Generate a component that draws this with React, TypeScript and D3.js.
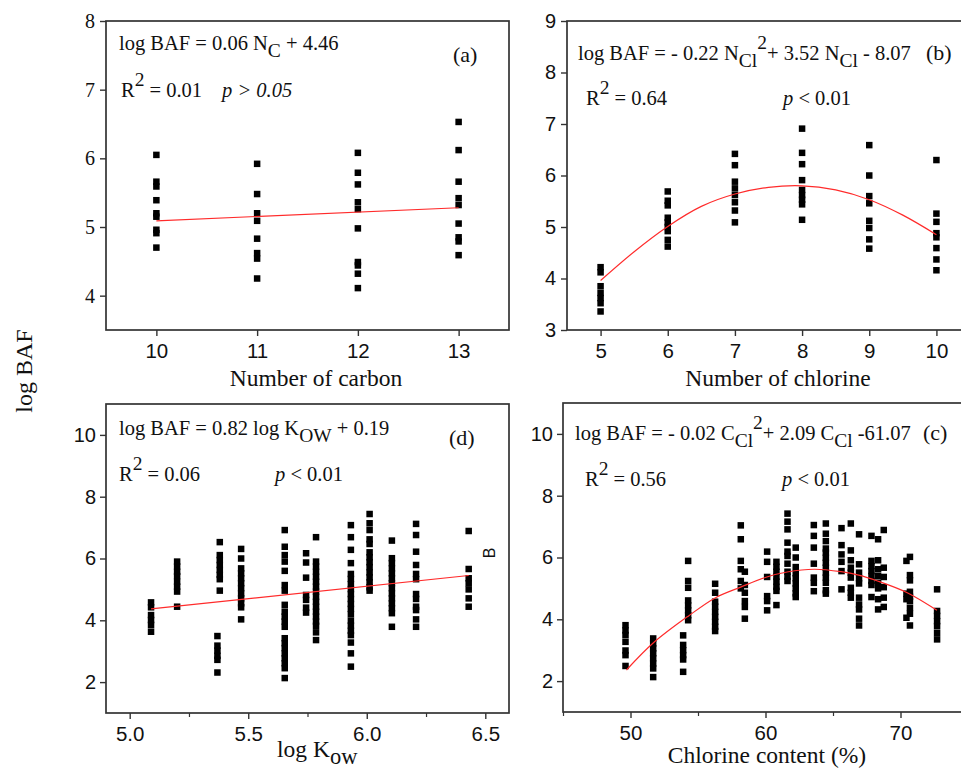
import { useRef, useEffect } from "react";
import * as d3 from "d3";

// (a) log BAF vs number of carbon
const carbon_x = [10, 11, 12, 13];
const carbon_baf = [
  [6.05, 5.66, 5.59, 5.39, 5.2, 5.15, 4.96, 4.91, 4.7],
  [5.92, 5.48, 5.2, 5.09, 4.83, 4.62, 4.54, 4.25],
  [6.08, 5.79, 5.62, 5.36, 5.26, 4.98, 4.49, 4.44, 4.32, 4.11],
  [6.53, 6.12, 5.66, 5.42, 5.32, 5.05, 4.85, 4.79, 4.59],
];
const carbon_fit_x = [10, 13];
const carbon_fit_y = [5.09, 5.28];

// (b) log BAF vs number of chlorine
const chlorine_x = [5, 6, 7, 8, 9, 10];
const chlorine_baf = [
  [4.22, 4.12, 3.85, 3.72, 3.62, 3.52, 3.36],
  [5.69, 5.51, 5.42, 5.18, 5.09, 5.0, 4.92, 4.75, 4.62],
  [6.42, 6.2, 5.88, 5.75, 5.62, 5.48, 5.32, 5.09],
  [6.91, 6.44, 6.22, 5.91, 5.72, 5.62, 5.53, 5.44, 5.14],
  [6.59, 6.0, 5.6, 5.46, 5.12, 4.98, 4.76, 4.58],
  [6.3, 5.26, 5.1, 4.88, 4.8, 4.59, 4.37, 4.16],
];
const chlorine_fit_x = [5, 5.5, 6, 6.5, 7, 7.5, 8, 8.5, 9, 9.5, 10];
const chlorine_fit_y = [3.96, 4.52, 5.01, 5.4, 5.64, 5.77, 5.8, 5.72, 5.53, 5.23, 4.85];

// (d) log BAF vs log Kow
const kow_x = [5.09, 5.2, 5.38, 5.37, 5.47, 5.654, 5.744, 5.786, 5.933, 6.012, 6.106, 6.208, 6.43];
const kow_baf = [
  [4.58, 4.42, 4.17, 4.01, 3.85, 3.63],
  [5.9, 5.74, 5.57, 5.43, 5.25, 5.09, 4.93, 4.44],
  [6.53, 6.11, 5.95, 5.79, 5.63, 5.47, 5.33, 4.96],
  [3.49, 3.18, 3.02, 2.85, 2.72, 2.31],
  [6.31, 6.0, 5.68, 5.52, 5.36, 5.2, 5.04, 4.87, 4.71, 4.55, 4.42, 4.03],
  [6.92, 6.38, 6.11, 5.9, 5.6, 5.14, 4.96, 4.5, 4.28, 4.12, 3.96, 3.79, 3.42, 3.26, 3.1, 2.93, 2.77, 2.61, 2.45, 2.13],
  [6.17, 5.87, 5.38, 4.82, 4.66, 4.41, 4.25],
  [6.69, 5.9, 5.74, 5.57, 5.41, 5.25, 5.09, 4.93, 4.76, 4.6, 4.44, 4.28, 4.12, 3.96, 3.82, 3.61, 3.36],
  [7.08, 6.69, 6.28, 5.85, 5.5, 5.34, 5.17, 5.01, 4.85, 4.69, 4.53, 4.37, 4.2, 3.99, 3.83, 3.66, 3.52, 3.28, 2.93, 2.5],
  [7.44, 7.14, 6.92, 6.62, 6.47, 6.2, 6.04, 5.88, 5.72, 5.55, 5.39, 5.23, 5.07, 4.96],
  [6.58, 6.01, 5.85, 5.68, 5.52, 5.36, 5.2, 5.04, 4.87, 4.71, 4.55, 4.39, 4.23, 3.79],
  [7.12, 6.76, 6.22, 5.79, 5.5, 5.33, 4.85, 4.69, 4.44, 4.33, 4.03, 3.79],
  [6.89, 5.66, 5.36, 5.2, 5.0, 4.71, 4.44],
];
const kow_fit_x = [5.09, 6.43];
const kow_fit_y = [4.37, 5.45];

// (c) log BAF vs chlorine content (%)
const content_x = [49.63, 51.68, 54.27, 53.9, 56.27, 58.17, 58.47, 60.12, 60.81, 61.63, 62.24, 63.58, 64.47, 65.63, 66.32, 66.93, 67.85, 68.34, 68.76, 70.7, 70.44, 72.71];
const content_baf = [
  [3.81, 3.64, 3.49, 3.27, 2.99, 2.84, 2.49],
  [3.38, 3.22, 3.06, 2.9, 2.74, 2.57, 2.41, 2.13],
  [5.89, 5.24, 5.02, 4.61, 4.45, 4.29, 4.13, 3.97],
  [3.48, 3.17, 3.0, 2.84, 2.7, 2.3],
  [5.15, 4.86, 4.57, 4.41, 4.24, 4.08, 3.92, 3.76, 3.62],
  [7.04, 6.59, 5.89, 5.62, 5.24, 5.0],
  [5.54, 5.11, 4.86, 4.59, 4.4, 4.02],
  [6.19, 5.86, 5.37, 4.75, 4.59, 4.29],
  [5.86, 5.7, 5.54, 5.38, 5.22, 5.05, 4.92, 4.46],
  [7.42, 7.16, 6.91, 6.48, 6.19, 6.05, 5.8, 5.54, 5.38, 5.24],
  [6.32, 6.0, 5.69, 5.49, 5.33, 5.16, 5.0, 4.84, 4.72],
  [7.05, 6.7, 6.32, 5.8, 5.35, 5.18, 4.91],
  [7.1, 6.77, 6.53, 6.29, 6.16, 5.99, 5.83, 5.67, 5.51, 5.35, 5.18, 4.94, 4.83],
  [6.95, 6.4, 6.1, 5.86, 5.56, 4.97],
  [7.1, 6.23, 5.91, 5.67, 5.51, 5.35, 5.02, 4.86, 4.7],
  [6.75, 5.78, 5.51, 5.33, 5.16, 4.7, 4.48, 4.32, 4.02, 3.8],
  [6.7, 5.89, 5.72, 5.56, 5.4, 5.24, 5.11, 4.72],
  [6.59, 5.91, 5.62, 5.4, 5.18, 5.0, 4.65, 4.32],
  [6.89, 5.67, 5.37, 5.04, 4.7, 4.4],
  [6.02, 5.43, 5.26, 4.89, 4.73, 4.59, 4.37, 4.18, 3.8],
  [5.89, 4.83, 4.65, 4.05],
  [4.97, 4.27, 4.11, 3.94, 3.78, 3.56, 3.35],
];
const content_fit_x = [49.7, 51.7, 54.3, 56.3, 58.2, 60.1, 61.6, 63.6, 65.6, 66.9, 68.3, 70.5, 72.7];
const content_fit_y = [2.36, 3.24, 4.11, 4.7, 5.05, 5.37, 5.53, 5.62, 5.54, 5.43, 5.24, 4.86, 4.29];

// tick values
const carbon_ticks = [10, 11, 12, 13];
const carbon_yticks = [4, 5, 6, 7, 8];
const chlorine_ticks = [5, 6, 7, 8, 9, 10];
const chlorine_yticks = [3, 4, 5, 6, 7, 8, 9];
const kow_ticks = [5.0, 5.5, 6.0, 6.5];
const kow_minor = [5.25, 5.75, 6.25];
const content_ticks = [50, 60, 70];
const content_minor = [45, 55, 65, 75];
const baf_yticks = [2, 4, 6, 8, 10];

const SERIF = "'Liberation Serif', 'Times New Roman', serif";
const SANS = "'Liberation Sans', Arial, sans-serif";

type Part = { t: string; s?: "sub" | "sup"; i?: boolean };

const App = () => {
  const container = useRef<SVGSVGElement>(null);

  useEffect(() => {
    createChart();
  });

  const rich = (g: any, x: number, y: number, parts: Part[], size: number, anchor = "start") => {
    const t = g
      .append("text")
      .attr("x", x)
      .attr("y", y)
      .attr("font-family", SERIF)
      .attr("font-size", size)
      .attr("fill", "#111")
      .attr("text-anchor", anchor)
      .style("white-space", "pre");
    let shift = 0;
    parts.forEach((p) => {
      const target = p.s === "sub" ? 7 : p.s === "sup" ? -11 : 0;
      t.append("tspan")
        .attr("dy", target - shift)
        .attr("font-size", p.s ? size - 1 : size)
        .attr("font-style", p.i ? "italic" : null)
        .text(p.t);
      shift = target;
    });
    return t;
  };

  const createChart = () => {
    const svg = d3.select(container.current);
    svg.selectAll("*").remove();

    const panels = [
      {
        left: 106, right: 509, top: 21, bottom: 330,
        xdom: [9.5, 13.5], ydom: [3.5, 8],
        xs: carbon_x, ys: carbon_baf, fx: carbon_fit_x, fy: carbon_fit_y, curve: d3.curveLinear,
        xticks: carbon_ticks, xminor: [] as number[], yticks: carbon_yticks,
        xfmt: d3.format("d"), yfont: SERIF, ysize: 20, ypad: 5,
      },
      {
        left: 567, right: 970, top: 21, bottom: 330,
        xdom: [4.5, 10.5], ydom: [3, 9],
        xs: chlorine_x, ys: chlorine_baf, fx: chlorine_fit_x, fy: chlorine_fit_y, curve: d3.curveCatmullRom,
        xticks: chlorine_ticks, xminor: [] as number[], yticks: chlorine_yticks,
        xfmt: d3.format("d"), yfont: SANS, ysize: 20, ypad: 5,
      },
      {
        left: 106, right: 509, top: 404, bottom: 713,
        xdom: [4.9, 6.6], ydom: [1, 11],
        xs: kow_x, ys: kow_baf, fx: kow_fit_x, fy: kow_fit_y, curve: d3.curveLinear,
        xticks: kow_ticks, xminor: kow_minor, yticks: baf_yticks,
        xfmt: d3.format(".1f"), yfont: SANS, ysize: 20, ypad: 4,
      },
      {
        left: 563, right: 968, top: 403, bottom: 712,
        xdom: [45, 75], ydom: [1, 11],
        xs: content_x, ys: content_baf, fx: content_fit_x, fy: content_fit_y, curve: d3.curveCatmullRom,
        xticks: content_ticks, xminor: content_minor, yticks: baf_yticks,
        xfmt: d3.format("d"), yfont: SANS, ysize: 20, ypad: 4,
      },
    ];

    panels.forEach((p) => {
      const x = d3.scaleLinear().domain(p.xdom).range([p.left, p.right]);
      const y = d3.scaleLinear().domain(p.ydom).range([p.bottom, p.top]);
      const g = svg.append("g");

      // frame
      g.append("rect")
        .attr("x", p.left)
        .attr("y", p.top)
        .attr("width", p.right - p.left)
        .attr("height", p.bottom - p.top)
        .attr("fill", "none")
        .attr("stroke", "#333")
        .attr("stroke-width", 1.7);

      // axes
      const xaxis = g
        .append("g")
        .attr("transform", `translate(0,${p.bottom})`)
        .call(d3.axisBottom(x).tickValues(p.xticks).tickFormat(p.xfmt as any).tickSize(6).tickSizeOuter(0).tickPadding(7));
      xaxis.attr("font-family", SANS).attr("font-size", 20.5);
      xaxis.select(".domain").remove();
      xaxis.selectAll("line").attr("stroke", "#333").attr("stroke-width", 1.4);
      xaxis.selectAll("text").attr("fill", "#111");

      if (p.xminor.length) {
        const minor = g
          .append("g")
          .attr("transform", `translate(0,${p.bottom})`)
          .call(d3.axisBottom(x).tickValues(p.xminor).tickFormat(() => "").tickSize(4).tickSizeOuter(0));
        minor.select(".domain").remove();
        minor.selectAll("line").attr("stroke", "#333").attr("stroke-width", 1.2);
      }

      const yaxis = g
        .append("g")
        .attr("transform", `translate(${p.left},0)`)
        .call(d3.axisLeft(y).tickValues(p.yticks).tickFormat(d3.format("d")).tickSize(6).tickSizeOuter(0).tickPadding(p.ypad));
      yaxis.attr("font-family", p.yfont).attr("font-size", p.ysize);
      yaxis.select(".domain").remove();
      yaxis.selectAll("line").attr("stroke", "#333").attr("stroke-width", 1.4);
      yaxis.selectAll("text").attr("fill", "#111");

      // points
      const pts = p.xs.flatMap((xv, i) => p.ys[i].map((yv) => ({ x: xv, y: yv })));
      const sq = 6.5;
      g.selectAll(".pt")
        .data(pts)
        .join("rect")
        .attr("class", "pt")
        .attr("x", (d) => x(d.x) - sq / 2)
        .attr("y", (d) => y(d.y) - sq / 2)
        .attr("width", sq)
        .attr("height", sq)
        .attr("fill", "#000");

      // fitted curve
      const fit = p.fx.map((xv, i) => [xv, p.fy[i]] as [number, number]);
      g.append("path")
        .datum(fit)
        .attr("fill", "none")
        .attr("stroke", "#ff2b2b")
        .attr("stroke-width", 1.2)
        .attr(
          "d",
          d3
            .line()
            .x((d) => x(d[0]))
            .y((d) => y(d[1]))
            .curve(p.curve)
        );
    });

    // annotations
    const fs = 20.5;
    rich(svg, 119, 50, [{ t: "log BAF = 0.06 N" }, { t: "C", s: "sub" }, { t: " + 4.46" }], fs);
    rich(svg, 121, 97, [{ t: "R" }, { t: "2", s: "sup" }, { t: " = 0.01" }], fs);
    rich(svg, 222, 97, [{ t: "p > 0.05", i: true }], fs);
    rich(svg, 453, 62, [{ t: "(a)" }], 22);

    rich(svg, 578, 60, [{ t: "log BAF = - 0.22 N" }, { t: "Cl", s: "sub" }, { t: "2", s: "sup" }, { t: "+ 3.52 N" }, { t: "Cl", s: "sub" }, { t: " - 8.07" }], fs);
    rich(svg, 586, 105, [{ t: "R" }, { t: "2", s: "sup" }, { t: " = 0.64" }], fs);
    rich(svg, 783, 105, [{ t: "p", i: true }, { t: " < 0.01" }], fs);
    rich(svg, 926, 60, [{ t: "(b)" }], 22);

    rich(svg, 119, 435, [{ t: "log BAF = 0.82 log K" }, { t: "OW", s: "sub" }, { t: " + 0.19" }], fs);
    rich(svg, 119, 481, [{ t: "R" }, { t: "2", s: "sup" }, { t: " = 0.06" }], fs);
    rich(svg, 275, 481, [{ t: "p", i: true }, { t: " < 0.01" }], fs);
    rich(svg, 449, 445, [{ t: "(d)" }], 22);

    rich(svg, 575, 440, [{ t: "log BAF = - 0.02 C" }, { t: "Cl", s: "sub" }, { t: "2", s: "sup" }, { t: "+ 2.09 C" }, { t: "Cl", s: "sub" }, { t: " -61.07" }], fs);
    rich(svg, 585, 486, [{ t: "R" }, { t: "2", s: "sup" }, { t: " = 0.56" }], fs);
    rich(svg, 782, 486, [{ t: "p", i: true }, { t: " < 0.01" }], fs);
    rich(svg, 923, 440, [{ t: "(c)" }], 22);

    // axis titles
    rich(svg, 316, 386, [{ t: "Number of carbon" }], 23.5, "middle");
    rich(svg, 778, 386, [{ t: "Number of chlorine" }], 23.5, "middle");
    rich(svg, 277, 757, [{ t: "log K" }, { t: "ow", s: "sub" }], 23.5);
    rich(svg, 767, 763, [{ t: "Chlorine content (%)" }], 23.5, "middle");

    svg.append("text")
      .attr("transform", "translate(32,371) rotate(-90)")
      .attr("text-anchor", "middle")
      .attr("font-family", SERIF)
      .attr("font-size", 24)
      .attr("fill", "#111")
      .text("log BAF");

    svg.append("text")
      .attr("transform", "translate(495,553) rotate(-90)")
      .attr("text-anchor", "middle")
      .attr("font-family", SANS)
      .attr("font-size", 16)
      .attr("fill", "#111")
      .text("B");
  };

  return (
    <>
      <style>{`body{margin:0}`}</style>
      <svg ref={container} width={961} height={769} style={{ display: "block", background: "#fff" }}></svg>
    </>
  );
};

export default App;
